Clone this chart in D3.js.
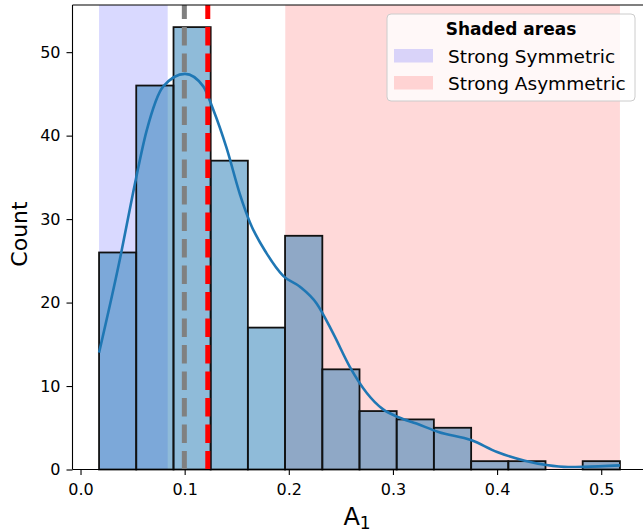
<!DOCTYPE html>
<html>
<head>
<meta charset="utf-8">
<script src="https://cdn.jsdelivr.net/npm/d3@7"></script>
<style>
  body { margin: 0; background: #fff; }
  svg text { font-family: "DejaVu Sans", sans-serif; }
</style>
</head>
<body>
<div id="chart"></div>
<script>
// histogram bins of A1
var binEdges = [0.0178, 0.0535, 0.0893, 0.1250, 0.1607, 0.1964, 0.2322, 0.2679,
                0.3036, 0.3393, 0.3751, 0.4108, 0.4465, 0.4822, 0.5180];
var counts = [26, 46, 53, 37, 17, 28, 12, 7, 6, 5, 1, 1, 0, 1];

// kde curve (scaled to counts)
var kdeX = [0.0178, 0.038, 0.0507, 0.0635, 0.0795, 0.1003, 0.1179, 0.1275, 0.1403, 0.153,
            0.1627, 0.1787, 0.1946, 0.2107, 0.2267, 0.2426, 0.2586, 0.2747, 0.2906, 0.3066,
            0.3226, 0.3437, 0.3756, 0.4, 0.4266, 0.4474, 0.4683, 0.4827, 0.518];
var kdeY = [14.0, 25.3, 33.3, 40.6, 45.9, 47.4, 45.9, 43.1, 38.5, 33.0,
            29.6, 25.9, 23.2, 21.9, 19.9, 16.3, 12.3, 9.2, 7.2, 6.2,
            5.5, 4.5, 3.5, 2.1, 1.06, 0.54, 0.3, 0.32, 0.5];

var medianVal = 0.0997;
var meanVal = 0.1222;
var symSpan = [0.0178, 0.0837];
var asymSpan = [0.1966, 0.518];

var xTicks = [0.0, 0.1, 0.2, 0.3, 0.4, 0.5];
var yTicks = [0, 10, 20, 30, 40, 50];
var legendLabels = ["Strong Symmetric", "Strong Asymmetric"];
var legendColors = ["blue", "red"];

var W = 643, H = 532;
var pL = 72.5, pR = 646, pT = 5, pB = 469.5;

var x = d3.scaleLinear().domain([-0.0077, 0.5430]).range([pL, pR]);
var y = d3.scaleLinear().domain([0, 55.65]).range([pB, pT]);

var svg = d3.select("#chart").append("svg")
  .attr("width", W).attr("height", H);

// shaded spans
svg.append("rect")
  .attr("x", x(symSpan[0])).attr("y", pT)
  .attr("width", x(symSpan[1]) - x(symSpan[0])).attr("height", pB - pT)
  .attr("fill", "blue").attr("fill-opacity", 0.15);
svg.append("rect")
  .attr("x", x(asymSpan[0])).attr("y", pT)
  .attr("width", x(asymSpan[1]) - x(asymSpan[0])).attr("height", pB - pT)
  .attr("fill", "red").attr("fill-opacity", 0.15);

// bars
var bars = counts.map(function(c, i) { return {x0: binEdges[i], x1: binEdges[i + 1], c: c}; })
  .filter(function(d) { return d.c > 0; });
svg.append("g").selectAll("rect")
  .data(bars).enter().append("rect")
  .attr("x", function(d) { return x(d.x0); })
  .attr("y", function(d) { return y(d.c); })
  .attr("width", function(d) { return x(d.x1) - x(d.x0); })
  .attr("height", function(d) { return y(0) - y(d.c); })
  .attr("fill", "#1f77b4").attr("fill-opacity", 0.5)
  .attr("stroke", "#111").attr("stroke-width", 1.8);

// kde
var line = d3.line()
  .x(function(d) { return x(d[0]); })
  .y(function(d) { return y(d[1]); })
  .curve(d3.curveMonotoneX);
svg.append("path")
  .datum(kdeX.map(function(v, i) { return [v, kdeY[i]]; }))
  .attr("d", line)
  .attr("fill", "none").attr("stroke", "#1f77b4").attr("stroke-width", 2.6);

// median / mean lines (drawn bottom to top)
[[medianVal, "gray"], [meanVal, "red"]].forEach(function(p) {
  svg.append("line")
    .attr("x1", x(p[0])).attr("x2", x(p[0]))
    .attr("y1", pB).attr("y2", pT)
    .attr("stroke", p[1]).attr("stroke-width", 5)
    .attr("stroke-dasharray", "18.5,8");
});

// axes
var xAxis = d3.axisBottom(x).tickValues(xTicks).tickFormat(d3.format(".1f"))
  .tickSize(5.6).tickPadding(9).tickSizeOuter(0);
var gx = svg.append("g").attr("transform", "translate(0," + pB + ")").call(xAxis);
var yAxis = d3.axisLeft(y).tickValues(yTicks).tickSize(6).tickPadding(6).tickSizeOuter(0);
var gy = svg.append("g").attr("transform", "translate(" + pL + ",0)").call(yAxis);
[gx, gy].forEach(function(g) {
  g.select(".domain").remove();
  g.selectAll(".tick line").attr("stroke", "#000").attr("stroke-width", 1.1);
  g.selectAll(".tick text").attr("fill", "#000").style("font-size", "16px")
    .style("font-family", "DejaVu Sans");
});

// spines
svg.append("line").attr("x1", pL).attr("x2", pL).attr("y1", pT).attr("y2", pB)
  .attr("stroke", "#000").attr("stroke-width", 1.1);
svg.append("line").attr("x1", pL).attr("x2", W).attr("y1", pB).attr("y2", pB)
  .attr("stroke", "#000").attr("stroke-width", 1.1);
svg.append("line").attr("x1", pL).attr("x2", W).attr("y1", pT).attr("y2", pT)
  .attr("stroke", "#000").attr("stroke-width", 1.1);

// axis labels
svg.append("text")
  .attr("transform", "translate(27,234) rotate(-90)")
  .attr("text-anchor", "middle")
  .style("font-size", "22px")
  .text("Count");
var xl = svg.append("text")
  .attr("x", 357).attr("y", 525)
  .attr("text-anchor", "middle")
  .style("font-size", "24px");
xl.append("tspan").text("A");
xl.append("tspan").attr("dy", 4).style("font-size", "17px").text("1");

// legend
var lg = svg.append("g");
lg.append("rect")
  .attr("x", 387).attr("y", 14).attr("width", 248).attr("height", 87).attr("rx", 4)
  .attr("fill", "#fff").attr("fill-opacity", 0.8)
  .attr("stroke", "#ccc").attr("stroke-width", 1);
lg.append("text")
  .attr("x", 511).attr("y", 35).attr("text-anchor", "middle")
  .style("font-size", "17px").style("font-weight", "bold")
  .text("Shaded areas");
legendLabels.forEach(function(t, i) {
  lg.append("rect")
    .attr("x", 394).attr("y", 49 + i * 27).attr("width", 39).attr("height", 13.5)
    .attr("fill", legendColors[i]).attr("fill-opacity", 0.15);
  lg.append("text")
    .attr("x", 448).attr("y", 63 + i * 27)
    .style("font-size", "18.5px")
    .text(t);
});
</script>
</body>
</html>
